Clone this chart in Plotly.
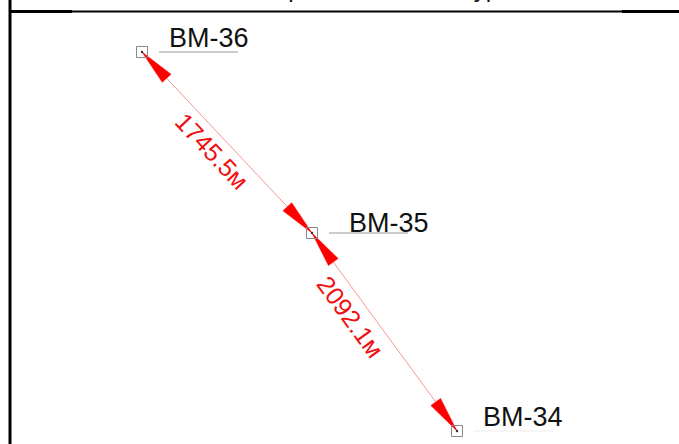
import math
import plotly.graph_objects as go

# точки (координаты схемы, пиксели листа)
names = ["BM-36", "BM-35", "BM-34"]
px = [142, 312, 457]
py = [52, 233, 431]

# расстояния между соседними точками, м
dist = [1745.5, 2092.1]

title_text = "Обзорная схема контура"

W, H = 679, 444
RED = "#f01010"

fig = go.Figure()

# размерные линии с треугольными стрелками
lab_t = [0.484, 0.37]     # положение подписи вдоль отрезка
lab_off = [17, 19]        # смещение подписи от линии
for i in range(len(dist)):
    x0, y0, x1, y1 = px[i], py[i], px[i + 1], py[i + 1]
    L = math.hypot(x1 - x0, y1 - y0)
    ux, uy = (x1 - x0) / L, (y1 - y0) / L
    nx, ny = -uy, ux
    fig.add_trace(go.Scatter(x=[x0, x1], y=[y0, y1], mode="lines",
                             line=dict(color="rgba(235,80,80,0.75)", width=0.8),
                             hoverinfo="skip", showlegend=False))
    for tx, ty, s in [(x0, y0, 1), (x1, y1, -1)]:
        bx, by = tx + s * ux * 36, ty + s * uy * 36
        fig.add_trace(go.Scatter(
            x=[tx, bx + nx * 6, bx - nx * 6, tx],
            y=[ty, by + ny * 6, by - ny * 6, ty],
            mode="lines", fill="toself", fillcolor="#ff0000",
            line=dict(color="#ff0000", width=0.5),
            hoverinfo="skip", showlegend=False))
    mx = x0 + (x1 - x0) * lab_t[i] + nx * lab_off[i]
    my = y0 + (y1 - y0) * lab_t[i] + ny * lab_off[i]
    fig.add_annotation(x=mx, y=my, text=f"{dist[i]}м", showarrow=False,
                       textangle=math.degrees(math.atan2(y1 - y0, x1 - x0)),
                       font=dict(family="Liberation Sans", size=25, color=RED),
                       xanchor="center", yanchor="middle")

# пункты
fig.add_trace(go.Scatter(x=px, y=py, mode="markers",
                         marker=dict(symbol="square-open", size=11, color="#888888",
                                     line=dict(color="#888888", width=1)),
                         hoverinfo="skip", showlegend=False))
fig.add_trace(go.Scatter(x=px, y=py, mode="markers",
                         marker=dict(size=2.5, color="#333333"),
                         hoverinfo="skip", showlegend=False))

# выноски и подписи пунктов
lead_col = ["#999999", "#999999", "#eeeeee"]
txt_dx = [26, 36, 25]
txt_dy = [5, 1, 5]
for i, n in enumerate(names):
    fig.add_shape(type="line", x0=px[i] + 17, x1=px[i] + 96, y0=py[i], y1=py[i],
                  line=dict(color=lead_col[i], width=1.2))
    fig.add_annotation(x=px[i] + txt_dx[i], y=py[i] - txt_dy[i] + 7, text=n,
                       showarrow=False, xanchor="left", yanchor="bottom",
                       font=dict(family="Liberation Sans", size=27, color="#111111"),
                       borderpad=0)

# рамка
fig.add_shape(type="line", x0=10, x1=10, y0=0, y1=H, line=dict(color="black", width=3))
fig.add_shape(type="line", x0=10, x1=W, y0=11.5, y1=11.5, line=dict(color="black", width=2))
fig.add_shape(type="line", x0=10, x1=72, y0=11.5, y1=11.5, line=dict(color="black", width=3))
fig.add_shape(type="line", x0=622, x1=W, y0=11.5, y1=11.5, line=dict(color="black", width=3))

# заголовок таблицы (в исходнике обрезан верхним краем)
fig.add_annotation(x=372, y=3, text=title_text, showarrow=False,
                   xanchor="center", yanchor="bottom", borderpad=0,
                   font=dict(family="Liberation Sans", size=24.5, color="#111111"))

fig.update_xaxes(range=[0, W], visible=False, fixedrange=True)
fig.update_yaxes(range=[H, 0], visible=False, fixedrange=True)
fig.update_layout(width=W, height=H, margin=dict(l=0, r=0, t=0, b=0),
                  paper_bgcolor="white", plot_bgcolor="white")

fig.write_html("out.html", config={"displayModeBar": False},
               post_script="document.body.style.margin='0';")
